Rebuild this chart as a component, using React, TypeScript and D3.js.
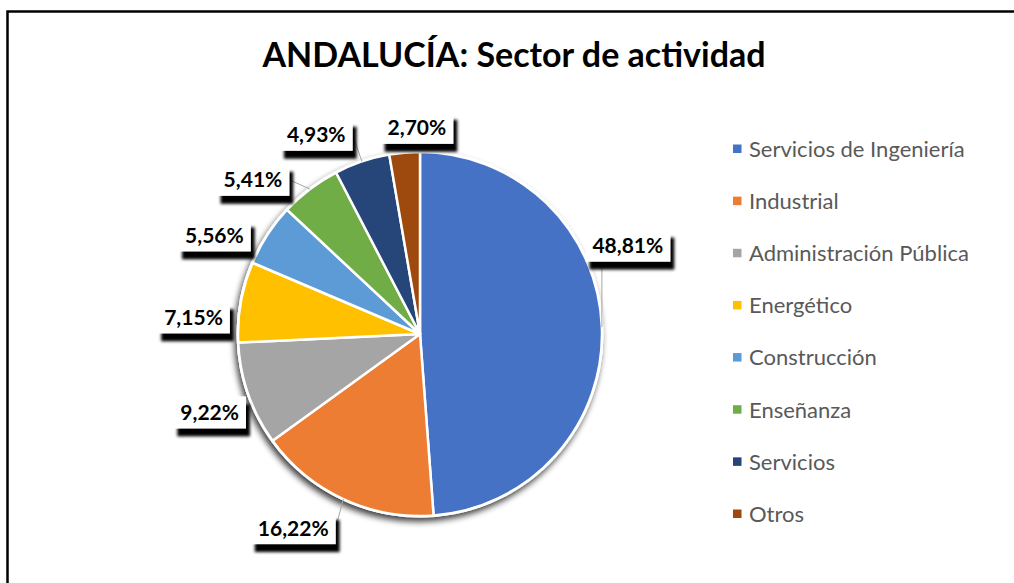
import React, { useMemo } from "react";
import * as d3 from "d3";

const categories = [
  "Servicios de Ingeniería",
  "Industrial",
  "Administración Pública",
  "Energético",
  "Construcción",
  "Enseñanza",
  "Servicios",
  "Otros",
];
const values = [48.81, 16.22, 9.22, 7.15, 5.56, 5.41, 4.93, 2.7];
const labelTexts = ["48,81%", "16,22%", "9,22%", "7,15%", "5,56%", "5,41%", "4,93%", "2,70%"];
const colors = ["#4472C4", "#ED7D31", "#A5A5A5", "#FFC000", "#5B9BD5", "#70AD47", "#264478", "#9E480E"];

// layout (not data): nudges of each label from its polar anchor, and leader flags
const labelNudge: [number, number][] = [
  [-17, -80],
  [-32, -10],
  [2, 4],
  [-5, 23],
  [-17, 24],
  [-31, 25],
  [-32, 14],
  [16, 18],
];
const showLeader = [true, true, false, false, false, true, true, false];

const W = 1014;
const H = 583;
const CX = 420;
const CY = 334;
const R = 182;
const LABEL_R = 225;
const LABEL_SIZE = 21;
const LABEL_FONT = `bold ${LABEL_SIZE}px Lato`;

function measure(text: string, font: string): number {
  if (typeof document === "undefined") return text.length * 10;
  const c = document.createElement("canvas");
  const ctx = c.getContext("2d");
  if (!ctx) return text.length * 10;
  ctx.font = font;
  return ctx.measureText(text).width;
}

export default function App() {
  const pie = d3
    .pie<number>()
    .sort(null)
    .value((d) => d);
  const arcs = pie(values);
  const arcGen = d3.arc<d3.PieArcDatum<number>>().innerRadius(0).outerRadius(R);

  const legendY = d3.scalePoint<string>().domain(categories).range([149, 514]);

  const labels = useMemo(
    () =>
      arcs.map((a, i) => {
        const mid = (a.startAngle + a.endAngle) / 2;
        const lx = CX + LABEL_R * Math.sin(mid) + labelNudge[i][0];
        const ly = CY - LABEL_R * Math.cos(mid) + labelNudge[i][1];
        const tw = measure(labelTexts[i], LABEL_FONT);
        const bw = tw + 14;
        const bh = 32;
        const ex = CX + R * Math.sin(mid);
        const ey = CY - R * Math.cos(mid);
        const bx0 = lx - bw / 2;
        const bx1 = lx + bw / 2;
        const by0 = ly - bh / 2;
        const by1 = ly + bh / 2;
        let px: number, py: number;
        if (ex >= bx0 && ex <= bx1) {
          px = ex;
          py = ey > ly ? by1 : by0;
        } else {
          px = ex > bx1 ? bx1 : bx0;
          py = ly;
        }
        return { lx, ly, bw, bh, bx0, by0, ex, ey, px, py };
      }),
    []
  );

  return (
    <svg
      width={W}
      height={H}
      style={{ position: "absolute", left: 0, top: 0, background: "#fff" }}
    >
      <defs>
        <filter id="boxShadow" x="-30%" y="-30%" width="160%" height="180%">
          <feGaussianBlur in="SourceAlpha" stdDeviation="1.8" />
          <feOffset dx="4" dy="8" result="off" />
          <feMerge>
            <feMergeNode />
            <feMergeNode in="SourceGraphic" />
          </feMerge>
        </filter>
        <filter id="pieShadow" x="-20%" y="-20%" width="140%" height="140%">
          <feGaussianBlur in="SourceAlpha" stdDeviation="3" />
          <feOffset dx="-2" dy="4" result="off" />
          <feComponentTransfer>
            <feFuncA type="linear" slope="0.75" />
          </feComponentTransfer>
          <feMerge>
            <feMergeNode />
            <feMergeNode in="SourceGraphic" />
          </feMerge>
        </filter>
      </defs>
      <rect x={7.5} y={11.5} width={1100} height={700} fill="#fff" stroke="#000" strokeWidth={2.5} />
      <text
        x={514}
        y={67}
        textAnchor="middle"
        fontFamily="Lato, 'Open Sans', sans-serif"
        fontWeight="bold"
        fontSize={34}
        fill="#000"
      >
        ANDALUCÍA: Sector de actividad
      </text>

      <g filter="url(#pieShadow)">
        <circle cx={CX} cy={CY} r={R + 1.5} fill="#fff" />
        <g transform={`translate(${CX},${CY})`}>
          {arcs.map((a, i) => (
            <path key={i} d={arcGen(a) || ""} fill={colors[i]} stroke="#fff" strokeWidth={2.5} strokeLinejoin="round" />
          ))}
        </g>
      </g>

      {labels.map((l, i) =>
        showLeader[i] ? (
          <line key={"ld" + i} x1={l.px} y1={l.py} x2={l.ex} y2={l.ey} stroke="#A6A6A6" strokeWidth={1} />
        ) : null
      )}

      {labels.map((l, i) => (
        <g key={"lb" + i}>
          <rect x={l.bx0} y={l.by0} width={l.bw} height={l.bh} fill="#fff" filter="url(#boxShadow)" />
          <text
            x={l.lx}
            y={l.ly}
            dy="0.36em"
            textAnchor="middle"
            fontFamily="Lato, 'Open Sans', sans-serif"
            fontWeight="bold"
            fontSize={LABEL_SIZE}
            fill="#000"
          >
            {labelTexts[i]}
          </text>
        </g>
      ))}

      {categories.map((c, i) => (
        <g key={"lg" + i} transform={`translate(0,${legendY(c)})`}>
          <rect x={733} y={-4.5} width={8.5} height={8.5} fill={colors[i]} />
          <text
            x={749}
            y={0}
            dy="0.36em"
            fontFamily="Lato, 'Open Sans', sans-serif"
            fontSize={22}
            fill="#595959"
          >
            {c}
          </text>
        </g>
      ))}
    </svg>
  );
}
